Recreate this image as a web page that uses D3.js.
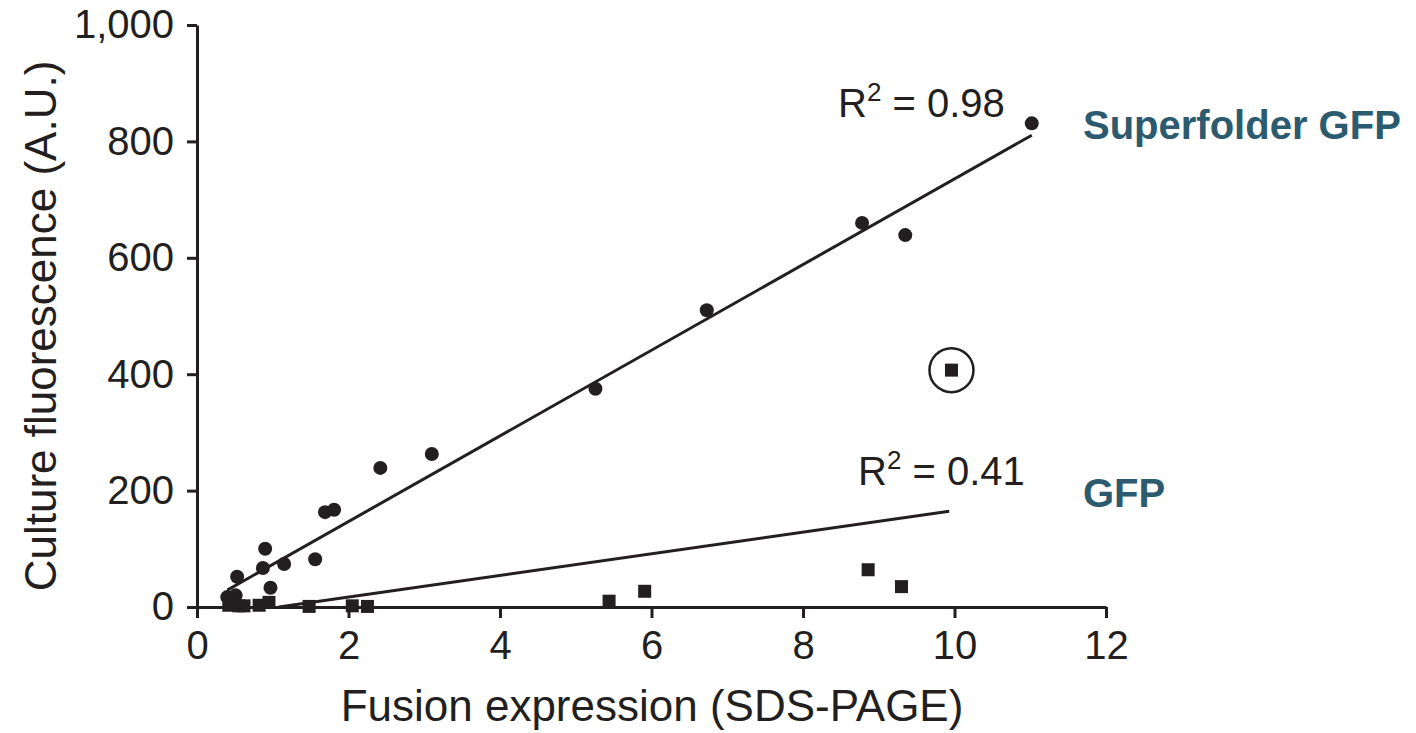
<!DOCTYPE html>
<html>
<head>
<meta charset="utf-8">
<script src="https://cdn.jsdelivr.net/npm/d3@7"></script>
<style>
  body { margin: 0; background: #fff; }
  text { font-family: "Liberation Sans", Arial, sans-serif; fill: #231f20; }
</style>
</head>
<body>
<svg id="chart" width="1416" height="733"></svg>
<script>
// superfolder GFP (circles) and GFP (squares)
const sfX = [11.02, 8.78, 9.35, 6.73, 5.26, 3.10, 2.42, 1.81, 1.69, 1.56, 1.15, 0.90, 0.87, 0.97, 0.53, 0.51, 0.40, 0.45];
const sfY = [831, 660, 639, 510, 375, 263, 239, 167, 163, 82, 74, 100, 67, 33, 52, 20, 17, 7];
const gfpX = [0.42, 0.55, 0.62, 0.82, 0.95, 1.48, 2.05, 2.25, 5.44, 5.91, 8.86, 9.30, 9.96];
const gfpY = [3, 2, 2, 3, 8, 1, 2, 1, 10, 27, 64, 35, 407];
const outlierIndex = 12; // circled GFP point

// fitted lines: [x start, x end], slope, intercept
const sfFit = { x: [0.40, 11.02], slope: 73.6, intercept: -0.4 };
const gfpFit = { x: [1.08, 9.93], slope: 18.6, intercept: -20.1 };

const xTicks = [0, 2, 4, 6, 8, 10, 12];
const yTicks = [0, 200, 400, 600, 800, 1000];

const svg = d3.select('#chart');
const x = d3.scaleLinear().domain([0, 12]).range([197, 1106]);
const y = d3.scaleLinear().domain([0, 1000]).range([607, 25]);

// axes
let xAxis = svg.append('g')
    .attr('transform', 'translate(0,' + y(0) + ')')
    .call(d3.axisBottom(x).tickValues(xTicks).tickSize(11).tickSizeOuter(0).tickPadding(12));
let yAxis = svg.append('g')
    .attr('transform', 'translate(' + x(0) + ',0)')
    .call(d3.axisLeft(y).tickValues(yTicks).tickFormat(d3.format(',')).tickSize(10).tickSizeOuter(0).tickPadding(13));

[xAxis, yAxis].forEach(function(a) {
    a.selectAll('path, line').attr('stroke', '#231f20').attr('stroke-width', 3);
    a.selectAll('text').style('font-size', '40px').attr('fill', '#231f20');
});
xAxis.selectAll('text').attr('dy', '0.72em');

// axis titles
svg.append('text')
    .attr('x', 652).attr('y', 721)
    .attr('text-anchor', 'middle')
    .style('font-size', '44px')
    .text('Fusion expression (SDS-PAGE)');
svg.append('text')
    .attr('transform', 'translate(56,326) rotate(-90)')
    .attr('text-anchor', 'middle')
    .style('font-size', '44px')
    .text('Culture fluorescence (A.U.)');

// fit lines
[sfFit, gfpFit].forEach(function(f) {
    svg.append('line')
        .attr('x1', x(f.x[0])).attr('y1', y(f.slope * f.x[0] + f.intercept))
        .attr('x2', x(f.x[1])).attr('y2', y(f.slope * f.x[1] + f.intercept))
        .attr('stroke', '#231f20')
        .attr('stroke-width', 3);
});

// circles
svg.append('g').selectAll('circle')
    .data(sfX)
    .enter()
    .append('circle')
    .attr('cx', function(d) { return x(d); })
    .attr('cy', function(d, i) { return y(sfY[i]); })
    .attr('r', 7)
    .attr('fill', '#231f20');

// squares
const sq = 13;
svg.append('g').selectAll('rect')
    .data(gfpX)
    .enter()
    .append('rect')
    .attr('x', function(d) { return x(d) - sq / 2; })
    .attr('y', function(d, i) { return y(gfpY[i]) - sq / 2; })
    .attr('width', sq).attr('height', sq)
    .attr('fill', '#231f20');

// ring round the outlier
svg.append('circle')
    .attr('cx', x(gfpX[outlierIndex]))
    .attr('cy', y(gfpY[outlierIndex]))
    .attr('r', 22)
    .attr('fill', 'none')
    .attr('stroke', '#231f20')
    .attr('stroke-width', 2.5);

// R squared labels
function rLabel(px, py, val) {
    let t = svg.append('text').attr('x', px).attr('y', py).style('font-size', '40px');
    t.append('tspan').text('R');
    t.append('tspan').attr('dy', -16).style('font-size', '26px').text('2');
    t.append('tspan').attr('dy', 16).text(' = ' + val);
}
rLabel(838, 117, '0.98');
rLabel(858, 485, '0.41');

// series names
svg.append('text').attr('x', 1083).attr('y', 139)
    .style('font-size', '40px').style('font-weight', 'bold').style('fill', '#2c5a6e')
    .text('Superfolder GFP');
svg.append('text').attr('x', 1083).attr('y', 507)
    .style('font-size', '40px').style('font-weight', 'bold').style('fill', '#2c5a6e')
    .text('GFP');
</script>
</body>
</html>
